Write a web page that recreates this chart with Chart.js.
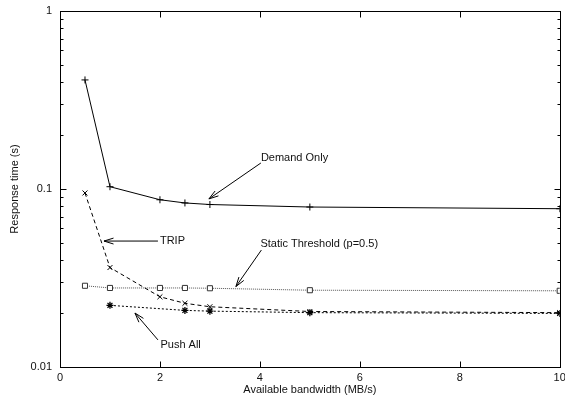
<!DOCTYPE html>
<html>
<head>
<meta charset="utf-8">
<script src="https://cdn.jsdelivr.net/npm/chart.js@4"></script>
<style>
  html, body { margin: 0; padding: 0; background: #fff; }
  #wrap { width: 565px; height: 403px; }
</style>
</head>
<body>
<div id="wrap"><canvas id="myChart" width="565" height="403"></canvas></div>
<script>
// values
const bandwidth = [0.5, 1, 2, 2.5, 3, 5, 10];
const demandOnly = [0.41, 0.103, 0.087, 0.0835, 0.0818, 0.0792, 0.0775];
const trip = [0.095, 0.0362, 0.0248, 0.0228, 0.0218, 0.0205, 0.0202];
const staticThreshold = [0.0286, 0.0278, 0.0278, 0.0278, 0.0277, 0.0270, 0.0268];
const pushAllBandwidth = [1, 2.5, 3, 5, 10];
const pushAll = [0.0222, 0.0208, 0.0206, 0.0202, 0.0200];

const xTicks = [0, 2, 4, 6, 8, 10];
const yTicks = [0.01, 0.1, 1];

// labels with arrows, in data units: text at (tx,ty), arrow from (fx,fy) to (hx,hy)
const notes = [
  { text: "Demand Only", tx: 4.02, ty: 0.149, fx: 4.02, fy: 0.14, hx: 2.98, hy: 0.088 },
  { text: "TRIP", tx: 2.0, ty: 0.051, fx: 1.96, fy: 0.051, hx: 0.88, hy: 0.051 },
  { text: "Static Threshold (p=0.5)", tx: 4.01, ty: 0.0491, fx: 4.03, fy: 0.0454, hx: 3.52, hy: 0.0283 },
  { text: "Push All", tx: 2.01, ty: 0.0133, fx: 1.96, fy: 0.0142, hx: 1.5, hy: 0.0201 },
];

const FONT = "'Liberation Sans', Arial, Helvetica, sans-serif";

function pts(xs, ys) {
  return xs.map((v, i) => ({ x: v, y: ys[i] }));
}

const gnuplotBits = {
  id: "gnuplotBits",
  afterDraw(chart) {
    const { ctx, chartArea: a, scales } = chart;
    const x = scales.x, y = scales.y;
    const L = Math.round(a.left) + 0.5, R = Math.round(a.right) + 0.5;
    const T = Math.round(a.top) + 0.5, B = Math.round(a.bottom) + 0.5;
    ctx.save();
    ctx.strokeStyle = "#000";
    ctx.lineWidth = 1;
    ctx.setLineDash([]);
    ctx.strokeRect(L, T, R - L, B - T);

    ctx.beginPath();
    xTicks.forEach(v => {
      const px = Math.round(x.getPixelForValue(v)) + 0.5;
      ctx.moveTo(px, B); ctx.lineTo(px, B - 6);
      ctx.moveTo(px, T); ctx.lineTo(px, T + 6);
    });
    yTicks.forEach(v => {
      const py = Math.round(y.getPixelForValue(v)) + 0.5;
      ctx.moveTo(L, py); ctx.lineTo(L + 6, py);
      ctx.moveTo(R, py); ctx.lineTo(R - 6, py);
    });
    [0.01, 0.1].forEach(d => {
      for (let m = 2; m <= 9; m++) {
        const py = Math.round(y.getPixelForValue(d * m)) + 0.5;
        ctx.moveTo(L, py); ctx.lineTo(L + 3, py);
        ctx.moveTo(R, py); ctx.lineTo(R - 3, py);
      }
    });
    ctx.stroke();

    ctx.font = "11px " + FONT;
    ctx.fillStyle = "#111";
    ctx.textAlign = "left";
    ctx.textBaseline = "middle";
    notes.forEach(n => {
      ctx.fillText(n.text, x.getPixelForValue(n.tx), y.getPixelForValue(n.ty));
      const fx = x.getPixelForValue(n.fx), fy = y.getPixelForValue(n.fy);
      const hx = x.getPixelForValue(n.hx), hy = y.getPixelForValue(n.hy);
      const ang = Math.atan2(hy - fy, hx - fx);
      const len = 10, spread = 0.3;
      ctx.beginPath();
      ctx.moveTo(fx, fy); ctx.lineTo(hx, hy);
      ctx.moveTo(hx - len * Math.cos(ang - spread), hy - len * Math.sin(ang - spread));
      ctx.lineTo(hx, hy);
      ctx.lineTo(hx - len * Math.cos(ang + spread), hy - len * Math.sin(ang + spread));
      ctx.stroke();
    });
    ctx.restore();
  }
};

var ctx = document.getElementById("myChart");
const data = {
  datasets: [
    {
      label: "Demand Only",
      data: pts(bandwidth, demandOnly),
      borderColor: "#000",
      borderWidth: 1,
      pointStyle: "cross",
      pointRadius: 3.5,
      pointBorderColor: "#000",
      pointBorderWidth: 1,
    },
    {
      label: "TRIP",
      data: pts(bandwidth, trip),
      borderColor: "#000",
      borderWidth: 1,
      borderDash: [4, 3],
      pointStyle: "crossRot",
      pointRadius: 3.5,
      pointBorderColor: "#000",
      pointBorderWidth: 1,
    },
    {
      label: "Static Threshold (p=0.5)",
      data: pts(bandwidth, staticThreshold),
      borderColor: "#555",
      borderWidth: 1,
      borderDash: [1, 1],
      pointStyle: "rect",
      pointRadius: 3.6,
      pointBackgroundColor: "#fff",
      pointBorderColor: "#333",
      pointBorderWidth: 1,
    },
    {
      label: "Push All",
      data: pts(pushAllBandwidth, pushAll),
      borderColor: "#000",
      borderWidth: 1,
      borderDash: [2, 2],
      pointStyle: "star",
      pointRadius: 3.5,
      pointBorderColor: "#000",
      pointBorderWidth: 1.3,
    },
  ],
};

const config = {
  type: "line",
  data: data,
  plugins: [gnuplotBits],
  options: {
    responsive: false,
    animation: false,
    layout: { padding: { top: 11, right: 5, left: 0, bottom: 0 } },
    plugins: { legend: { display: false }, tooltip: { enabled: false } },
    elements: { line: { tension: 0, fill: false } },
    scales: {
      x: {
        type: "linear",
        min: 0,
        max: 10,
        grid: { display: false, drawTicks: false },
        border: { display: false },
        afterBuildTicks: s => { s.ticks = xTicks.map(v => ({ value: v })); },
        afterFit: s => { s.height = 36; s.paddingLeft = 0; s.paddingRight = 0; },
        ticks: {
          padding: 4,
          color: "#111",
          font: { family: FONT, size: 11 },
          callback: v => String(v),
        },
        title: {
          display: true,
          text: "Available bandwidth (MB/s)",
          color: "#111",
          font: { family: FONT, size: 11 },
          padding: { top: 0, bottom: 6 },
        },
      },
      y: {
        type: "logarithmic",
        min: 0.01,
        max: 1,
        grid: { display: false, drawTicks: false },
        border: { display: false },
        afterBuildTicks: s => { s.ticks = yTicks.map(v => ({ value: v })); },
        afterFit: s => { s.width = 60; s.paddingTop = 0; s.paddingBottom = 0; },
        ticks: {
          padding: 8,
          color: "#111",
          font: { family: FONT, size: 11 },
          callback: v => String(v),
        },
        title: {
          display: true,
          text: "Response time (s)",
          color: "#111",
          font: { family: FONT, size: 11 },
          padding: { top: 8, bottom: 0 },
        },
      },
    },
  },
};

var myChart = new Chart(ctx, config);
</script>
</body>
</html>
